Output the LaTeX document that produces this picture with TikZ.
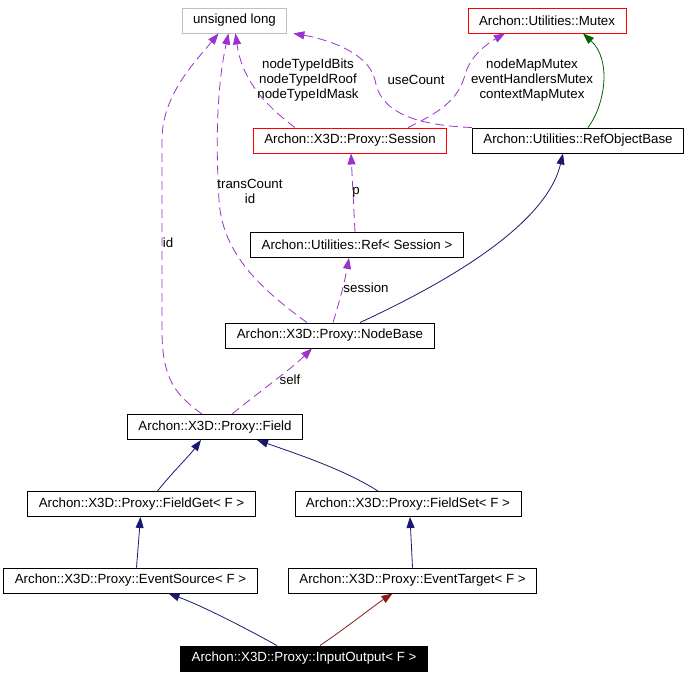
\documentclass[tikz,border=0pt]{standalone}
\usepackage{fontspec}
\setmainfont{Liberation Sans}
\usepackage{tikz}
\usetikzlibrary{arrows.meta,positioning}

\definecolor{usecol}{HTML}{9A32CD}
\definecolor{inhcol}{HTML}{191970}
\definecolor{tmplcol}{HTML}{006400}
\definecolor{protcol}{HTML}{8B1A1A}
\definecolor{extcol}{HTML}{BFBFBF}

\begin{document}
\begin{tikzpicture}[
			x=1pt,y=-1pt,
			box/.style={
				draw,
				line width=0.9pt,
				minimum height=25pt,
				inner xsep=11pt,
				inner ysep=0pt,
				font=\fontsize{13.3}{15}\selectfont,
				fill=white
			},
			redbox/.style={box,draw=red},
			extbox/.style={box,draw=extcol},
			lbl/.style={
				align=center,
				inner sep=0pt,
				font=\fontsize{13.3}{15}\selectfont
			},
			tip/.style={-{Triangle[length=11pt,width=8pt]}},
			use/.style={tip,usecol,line width=0.8pt,dash pattern=on 9pt off 5pt},
			inh/.style={tip,inhcol,line width=0.8pt},
			tmpl/.style={tip,tmplcol,line width=0.8pt},
			prot/.style={tip,protcol,line width=0.8pt}
			]
			\useasboundingbox[fill=white] (0,0) rectangle (691,677);
			
			\node[extbox] (ulong) at (234.5,20.5) {unsigned long};
			\node[redbox] (mutex) at (547,20.5) {Archon::Utilities::Mutex};
			\node[redbox] (sess) at (350,140.5) {Archon::X3D::Proxy::Session};
			\node[box] (robase) at (578,140.5) {Archon::Utilities::RefObjectBase};
			\node[box] (refsess) at (357,245) {Archon::Utilities::Ref< Session >};
			\node[box] (nodebase) at (330,335.5) {Archon::X3D::Proxy::NodeBase};
			\node[box] (field) at (215,427) {Archon::X3D::Proxy::Field};
			\node[box] (fget) at (141.5,504) {Archon::X3D::Proxy::FieldGet< F >};
			\node[box] (fset) at (408,504) {Archon::X3D::Proxy::FieldSet< F >};
			\node[box] (esrc) at (130.5,580.5) {Archon::X3D::Proxy::EventSource< F >};
			\node[box] (etgt) at (412.5,580.5) {Archon::X3D::Proxy::EventTarget< F >};
			\node[box,fill=black,text=white] (inout) at (304,658.5) {Archon::X3D::Proxy::InputOutput< F >};
			
			\draw[use] ([xshift=-13]field.north) .. controls (176,395) and (162,380) .. (162,330)
				-- (162,140) .. controls (162,95) and (195,62) .. ([xshift=-16]ulong.south);
			\draw[use] ([xshift=-23]nodebase.north) .. controls (255,285) and (222,250) .. (219,200)
				.. controls (216,150) and (216,90) .. ([xshift=-6]ulong.south);
			\draw[use] ([xshift=-55]sess.north) .. controls (265,105) and (242,80) .. ([xshift=1]ulong.south);
			\draw[use] (robase.north west) .. controls (410,125) and (380,110) .. (375,80)
				.. controls (368,50) and (320,38) .. ([xshift=6]ulong.south east);
			\draw[use] ([xshift=58]sess.north) .. controls (440,112) and (458,100) .. (465,75)
				.. controls (470,55) and (490,42) .. ([xshift=-42]mutex.south);
			\draw[tmpl] ([xshift=10]robase.north) .. controls (605,105) and (612,60) .. ([xshift=36]mutex.south);
			\draw[use] ([xshift=-2]refsess.north) -- ([xshift=1]sess.south);
			\draw[use] ([xshift=3]nodebase.north) .. controls (340,300) and (345,280) .. ([xshift=-8]refsess.south);
			\draw[inh] ([xshift=30]nodebase.north) .. controls (430,290) and (545,230) .. ([xshift=-15]robase.south);
			\draw[use] ([xshift=17]field.north) .. controls (255,395) and (290,370) .. ([xshift=-18]nodebase.south);
			\draw[inh] ([xshift=16]fget.north) .. controls (170,475) and (190,455) .. ([xshift=-14]field.south);
			\draw[inh] ([xshift=-30]fset.north) .. controls (345,470) and (300,455) .. ([xshift=42]field.south);
			\draw[inh] ([xshift=6]esrc.north) -- ([xshift=-1]fget.south);
			\draw[inh] (etgt.north) -- ([xshift=2]fset.south);
			\draw[inh] ([xshift=-27]inout.north) .. controls (240,625) and (200,605) .. ([xshift=38]esrc.south);
			\draw[prot] ([xshift=16]inout.north) .. controls (350,625) and (375,605) .. ([xshift=-20]etgt.south);
			
			\node[lbl] (lbltypeid) at (308,80) {nodeTypeIdBits\\nodeTypeIdRoof\\nodeTypeIdMask};
			\node[lbl] (lblusecount) at (416,80) {useCount};
			\node[lbl] (lblmutex) at (532,80) {nodeMapMutex\\eventHandlersMutex\\contextMapMutex};
			\node[lbl] (lbltrans) at (250,191) {transCount\\id};
			\node[lbl] (lblp) at (356,192) {p};
			\node[lbl] (lblid) at (168,243) {id};
			\node[lbl] (lblsession) at (366,288) {session};
			\node[lbl] (lblself) at (290,380) {self};
			
		\end{tikzpicture}
\end{document}
